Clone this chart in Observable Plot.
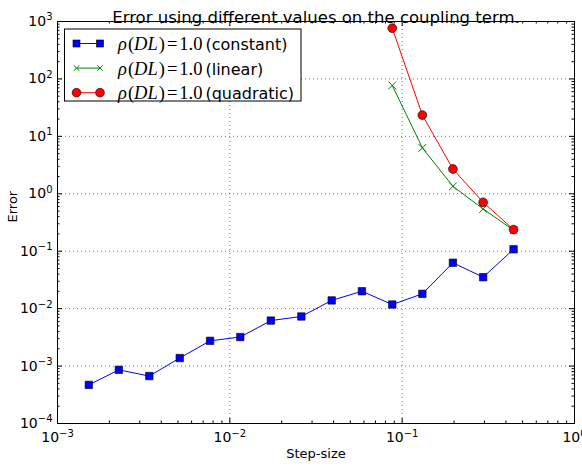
<!DOCTYPE html>
<html>
<head>
<meta charset="utf-8">
<script src="https://cdn.jsdelivr.net/npm/d3@7"></script>
<script src="https://cdn.jsdelivr.net/npm/@observablehq/plot@0.6"></script>
<style>
  body { margin: 0; background: #fff; }
  #chart svg { font-family: "DejaVu Sans", sans-serif; background: #fff; overflow: visible; }
</style>
</head>
<body>
<div id="chart"></div>
<script>
// Labels
const title = "Error using different values on the coupling term.";
const xLabel = "Step-size";
const yLabel = "Error";

// Step sizes for the full refinement sweep and for the coarse runs
const stepSize = [0.00152, 0.00227, 0.00341, 0.00512, 0.00768, 0.0115, 0.0173, 0.0260,
                  0.0390, 0.0584, 0.0876, 0.131, 0.197, 0.295, 0.443];
const stepCoarse = [0.0876, 0.131, 0.197, 0.295, 0.443];

// Error per coupling-term variant
const errConstant = [4.7e-4, 8.6e-4, 6.7e-4, 1.38e-3, 2.75e-3, 3.2e-3, 6.2e-3, 7.3e-3,
                     0.0139, 0.0201, 0.0118, 0.0181, 0.063, 0.0353, 0.108];
const errLinear = [77, 6.3, 1.35, 0.545, 0.232];
const errQuadratic = [764, 23.5, 2.70, 0.711, 0.238];

// Series names, colours and marker shapes
const seriesNames = ["constant", "linear", "quadratic"];
const seriesColors = ["#0000ff", "#008000", "#ff0000"];
const seriesSymbols = ["square", "times", "circle"];

// Decade tick values
const xDecades = [1e-3, 1e-2, 1e-1, 1];
const yDecades = [1e-4, 1e-3, 1e-2, 1e-1, 1, 1e1, 1e2, 1e3];

const W = 582, H = 470;
const mL = 57, mR = 8, mT = 21, mB = 47;
const plotW = W - mL - mR, plotH = H - mT - mB;
const majorLen = 5, minorLen = 2.5;

function minorsOf(decades) {
  const out = [];
  for (const d of decades.slice(0, -1)) for (let k = 2; k < 10; k++) out.push(d * k);
  return out;
}
const xMinor = minorsOf(xDecades);
const yMinor = minorsOf(yDecades);

const rows = [
  ...stepSize.map((x, i) => ({series: "constant", x, y: errConstant[i]})),
  ...stepCoarse.map((x, i) => ({series: "linear", x, y: errLinear[i]})),
  ...stepCoarse.map((x, i) => ({series: "quadratic", x, y: errQuadratic[i]}))
];

const expFormat = d => "10^" + Math.round(Math.log10(d));
const grid = {stroke: "#000", strokeOpacity: 0.55, strokeDasharray: "1,3", strokeWidth: 1};

const seriesMarks = seriesNames.flatMap((name, i) => {
  const data = rows.filter(r => r.series === name);
  const color = seriesColors[i];
  const sym = seriesSymbols[i];
  return [
    Plot.line(data, {x: "x", y: "y", stroke: color, strokeWidth: 1}),
    sym === "times"
      ? Plot.dot(data, {x: "x", y: "y", symbol: "times", r: 3.6, stroke: color, strokeWidth: 1})
      : Plot.dot(data, {x: "x", y: "y", symbol: sym, r: sym === "square" ? 4.2 : 4.4,
                        fill: color, stroke: "#000", strokeWidth: 0.6})
  ];
});

const chart = Plot.plot({
  width: W, height: H,
  marginLeft: mL, marginRight: mR, marginTop: mT, marginBottom: mB,
  x: {type: "log", domain: [1e-3, 1]},
  y: {type: "log", domain: [1e-4, 1e3]},
  marks: [
    // dotted grid at interior decades
    Plot.ruleX(xDecades.slice(1, -1), grid),
    Plot.ruleY(yDecades.slice(1, -1), grid),
    // inward ticks on all four sides
    Plot.ruleX(xDecades, {stroke: "#000", insetTop: plotH - majorLen}),
    Plot.ruleX(xDecades, {stroke: "#000", insetBottom: plotH - majorLen}),
    Plot.ruleX(xMinor, {stroke: "#000", insetTop: plotH - minorLen}),
    Plot.ruleX(xMinor, {stroke: "#000", insetBottom: plotH - minorLen}),
    Plot.ruleY(yDecades, {stroke: "#000", insetRight: plotW - majorLen}),
    Plot.ruleY(yDecades, {stroke: "#000", insetLeft: plotW - majorLen}),
    Plot.ruleY(yMinor, {stroke: "#000", insetRight: plotW - minorLen}),
    Plot.ruleY(yMinor, {stroke: "#000", insetLeft: plotW - minorLen}),
    ...seriesMarks,
    Plot.frame({stroke: "#000", strokeWidth: 1}),
    Plot.axisX(xDecades, {anchor: "bottom", tickSize: 0, tickPadding: 9, fontSize: 14,
                          tickFormat: expFormat, label: null}),
    Plot.axisY(yDecades, {anchor: "left", tickSize: 0, tickPadding: 5, fontSize: 14,
                          tickFormat: expFormat, label: null}),
    Plot.text([title], {frameAnchor: "top", dy: -10, fontSize: 16.5, fill: "#000"}),
    Plot.text([xLabel], {frameAnchor: "bottom", dy: 34, fontSize: 13, fill: "#000"}),
    Plot.text([yLabel], {frameAnchor: "left", dx: -45, rotate: -90, fontSize: 13, fill: "#000"})
  ]
});

const svg = d3.select(chart);

// Render "10^n" tick labels as a base with a raised exponent
svg.selectAll("text").each(function() {
  const t = d3.select(this);
  const s = t.text();
  const m = /^10\^(-?\d+)$/.exec(s);
  if (!m) return;
  t.text(null);
  t.append("tspan").text("10");
  t.append("tspan").attr("dy", "-0.55em").attr("font-size", 10)
    .text(m[1].replace("-", "\u2212"));
});

// Legend box in the upper-left corner of the axes
const legend = svg.append("g").attr("text-anchor", "start");
const lx = 64.5, ly = 29, lw = 236.5, lh = 72;
legend.append("rect").attr("x", lx).attr("y", ly).attr("width", lw).attr("height", lh)
  .attr("fill", "#fff").attr("stroke", "#000").attr("stroke-width", 1);
seriesNames.forEach((name, i) => {
  const cy = 43.5 + i * 24.6;
  const g = legend.append("g");
  const ends = [76.5, 100];
  g.append("line").attr("x1", ends[0]).attr("x2", ends[1]).attr("y1", cy).attr("y2", cy)
    .attr("stroke", seriesColors[i]).attr("stroke-width", 1);
  for (const cx of ends) {
    if (seriesSymbols[i] === "square") {
      g.append("rect").attr("x", cx - 3.5).attr("y", cy - 3.5).attr("width", 7).attr("height", 7)
        .attr("fill", seriesColors[i]).attr("stroke", "#000").attr("stroke-width", 0.6);
    } else if (seriesSymbols[i] === "circle") {
      g.append("circle").attr("cx", cx).attr("cy", cy).attr("r", 4.4)
        .attr("fill", seriesColors[i]).attr("stroke", "#000").attr("stroke-width", 0.6);
    } else {
      const s = 2.8;
      g.append("path").attr("d", `M${cx - s},${cy - s}L${cx + s},${cy + s}M${cx - s},${cy + s}L${cx + s},${cy - s}`)
        .attr("stroke", seriesColors[i]).attr("stroke-width", 1).attr("fill", "none");
    }
  }
  const txt = g.append("text").attr("x", 118).attr("y", cy).attr("dy", "0.36em")
    .attr("text-anchor", "start").attr("font-size", 18.5).attr("fill", "#000");
  const mathFont = "'Liberation Serif', serif";
  const part = (s, italic, dx) => txt.append("tspan").attr("font-family", mathFont)
    .attr("dx", dx || 0).attr("font-style", italic ? "italic" : "normal").text(s);
  part("\u03c1", true);
  part("(", false, 1);
  part("DL", true);
  part(")", false, 1);
  part("=", false, 2);
  part("1.0", false, 2);
  txt.append("tspan").attr("font-family", "'DejaVu Sans', sans-serif").attr("font-size", 16)
    .attr("dx", 3).text("(" + name + ")");
});

document.getElementById("chart").appendChild(chart);
</script>
</body>
</html>
